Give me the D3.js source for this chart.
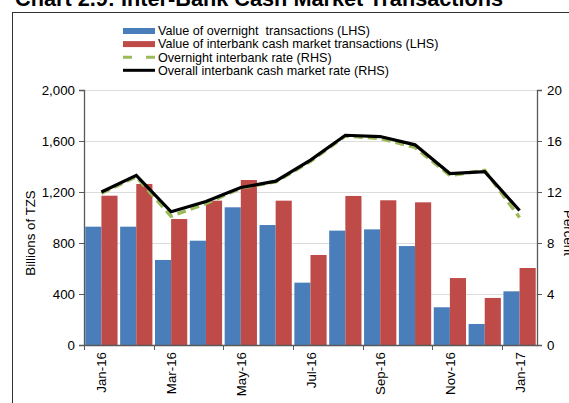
<!DOCTYPE html>
<html>
<head>
<meta charset="utf-8">
<script src="https://cdn.jsdelivr.net/npm/d3@7"></script>
<style>
  body { margin: 0; background: #fff; }
  svg { display: block; font-family: Arial, "Liberation Sans", sans-serif; }
</style>
</head>
<body>
<script>
// data
var months = ["Jan-16","Feb-16","Mar-16","Apr-16","May-16","Jun-16","Jul-16",
              "Aug-16","Sep-16","Oct-16","Nov-16","Dec-16","Jan-17"];
var overnightValue = [928, 928, 667, 818, 1080, 941, 489, 897, 907, 776, 296, 165, 421];
var interbankValue = [1171, 1263, 988, 1132, 1294, 1132, 706, 1169, 1135, 1119, 525, 369, 604];
var overnightRate  = [11.9, 13.2, 10.1, 11.1, 12.3, 12.8, 14.4, 16.4, 16.2, 15.5, 13.3, 13.7, 10.0];
var overallRate    = [12.0, 13.3, 10.45, 11.25, 12.35, 12.85, 14.5, 16.45, 16.35, 15.7, 13.45, 13.6, 10.55];
var leftTicks  = [0, 400, 800, 1200, 1600, 2000];
var rightTicks = [0, 4, 8, 12, 16, 20];
var labelMonths = ["Jan-16","Mar-16","May-16","Jul-16","Sep-16","Nov-16","Jan-17"];

var window_w = 569, window_h = 403;
var margin = {left: 84, top: 90, right: 32, bottom: 58};
var frame_w = window_w - margin.left - margin.right;
var frame_h = window_h - margin.top - margin.bottom;
var fs = "13.3px";

var svg = d3.select("body").append("svg")
    .attr("width", window_w).attr("height", window_h);

// outer frame
svg.append("rect")
    .attr("x", 12.5).attr("y", 12.5)
    .attr("width", 700).attr("height", 500)
    .attr("fill", "none").attr("stroke", "#333").attr("stroke-width", 1);

// title, cut at the top like the source
svg.append("text")
    .attr("x", 15).attr("y", 6)
    .style("font-size", "21.7px").style("font-weight", "bold")
    .text("Chart 2.9: Inter-Bank Cash Market Transactions");

var xScale = d3.scaleBand().domain(months).range([0, frame_w]);
var xSub = d3.scaleBand().domain(["o", "i"]).range([0, xScale.bandwidth()]).paddingOuter(0.08);
var yScale = d3.scaleLinear().domain([0, 2000]).range([frame_h, 0]);
var y2Scale = d3.scaleLinear().domain([0, 20]).range([frame_h, 0]);

var g = svg.append("g").attr("transform", "translate(" + margin.left + "," + margin.top + ")");

// gridlines
g.selectAll(".grid").data(leftTicks.slice(1)).enter().append("line")
    .attr("x1", 0).attr("x2", frame_w)
    .attr("y1", function(d){ return yScale(d) + 0.5; })
    .attr("y2", function(d){ return yScale(d) + 0.5; })
    .attr("stroke", "#dcdcdc").attr("stroke-width", 1);

// bars
var groups = g.selectAll(".month").data(months).enter().append("g")
    .attr("transform", function(d){ return "translate(" + xScale(d) + ",0)"; });

groups.append("rect")
    .attr("x", xSub("o")).attr("width", xSub.bandwidth())
    .attr("y", function(d, i){ return yScale(overnightValue[i]); })
    .attr("height", function(d, i){ return frame_h - yScale(overnightValue[i]); })
    .attr("fill", "#4a7ebb");

groups.append("rect")
    .attr("x", xSub("i")).attr("width", xSub.bandwidth())
    .attr("y", function(d, i){ return yScale(interbankValue[i]); })
    .attr("height", function(d, i){ return frame_h - yScale(interbankValue[i]); })
    .attr("fill", "#be4b48");

// lines
var line = function(arr) {
    return d3.line()
        .x(function(d, i){ return xScale(months[i]) + xScale.bandwidth() / 2; })
        .y(function(d){ return y2Scale(d); })(arr);
};

g.append("path").attr("d", line(overnightRate))
    .attr("fill", "none").attr("stroke", "#9bbb59").attr("stroke-width", 3.5)
    .attr("stroke-dasharray", "9,5");

g.append("path").attr("d", line(overallRate))
    .attr("fill", "none").attr("stroke", "#000").attr("stroke-width", 3.2)
    .attr("stroke-linejoin", "miter");

// axes
var axisColor = "#595959";
var yAxis = d3.axisLeft(yScale).tickValues(leftTicks).tickSize(5).tickPadding(4)
    .tickFormat(d3.format(","));
var yAxisG = g.append("g").call(yAxis);

var y2Axis = d3.axisRight(y2Scale).tickValues(rightTicks).tickSize(5).tickPadding(5);
var y2AxisG = g.append("g").attr("transform", "translate(" + frame_w + ",0)").call(y2Axis);

var xAxis = d3.axisBottom(xScale).tickValues([]).tickSizeOuter(0);
var xAxisG = g.append("g").attr("transform", "translate(0," + frame_h + ")").call(xAxis);

// tick marks between every two months
xAxisG.selectAll(".mtick").data(d3.range(0, months.length + 1, 2)).enter().append("line")
    .attr("x1", function(d){ return Math.round(d * xScale.step()) + 0.5; })
    .attr("x2", function(d){ return Math.round(d * xScale.step()) + 0.5; })
    .attr("y1", 0).attr("y2", 5)
    .attr("stroke", axisColor);

xAxisG.selectAll(".mlab").data(labelMonths).enter().append("text")
    .attr("transform", function(d){
        return "translate(" + (xScale(d) + xScale.bandwidth() / 2 + 5) + ",7) rotate(-90)";
    })
    .attr("text-anchor", "end")
    .attr("fill", "#000")
    .text(function(d){ return d; });

[yAxisG, y2AxisG, xAxisG].forEach(function(a){
    a.selectAll("path,line").attr("stroke", axisColor);
    a.select(".domain").attr("stroke-width", 1.3);
    a.selectAll("text").attr("fill", "#000").style("font-size", fs)
        .style("font-family", "Arial, 'Liberation Sans', sans-serif");
});

// axis titles
svg.append("text")
    .attr("transform", "translate(35,233) rotate(-90)")
    .attr("text-anchor", "middle").style("font-size", fs)
    .text("Billions of TZS");

svg.append("text")
    .attr("transform", "translate(564,233) rotate(90)")
    .attr("text-anchor", "middle").style("font-size", fs)
    .text("Percent");

// legend
var legend = [
    {label: "Value of overnight  transactions (LHS)", type: "bar", color: "#4a7ebb"},
    {label: "Value of interbank cash market transactions (LHS)", type: "bar", color: "#be4b48"},
    {label: "Overnight interbank rate (RHS)", type: "dash", color: "#9bbb59"},
    {label: "Overall interbank cash market rate (RHS)", type: "line", color: "#000"}
];
var lg = svg.append("g").attr("transform", "translate(123,31)");
legend.forEach(function(d, i){
    var row = lg.append("g").attr("transform", "translate(0," + (i * 13.1) + ")");
    if (d.type === "bar") {
        row.append("rect").attr("x", 0).attr("y", -3).attr("width", 32).attr("height", 6)
            .attr("fill", d.color);
    } else if (d.type === "dash") {
        row.append("line").attr("x1", 0).attr("x2", 32).attr("y1", 0).attr("y2", 0)
            .attr("stroke", d.color).attr("stroke-width", 3)
            .attr("stroke-dasharray", "9,14");
    } else {
        row.append("line").attr("x1", 0).attr("x2", 32).attr("y1", 0).attr("y2", 0)
            .attr("stroke", d.color).attr("stroke-width", 3);
    }
    row.append("text").attr("x", 35).attr("y", 4.3)
        .style("font-size", "12.6px").style("white-space", "pre").text(d.label);
});
</script>
</body>
</html>
